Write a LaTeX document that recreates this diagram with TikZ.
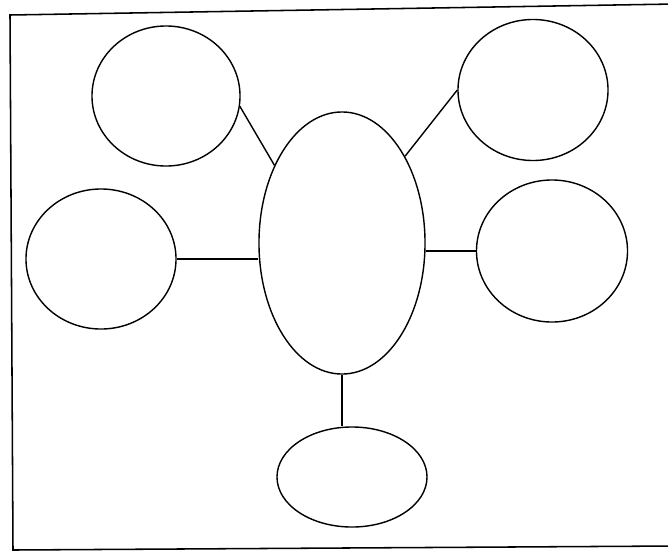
\documentclass[tikz,border=0pt]{standalone}
\usepackage{tikz}
\usetikzlibrary{shapes.geometric}

\begin{document}
\begin{tikzpicture}[
  x=0.025cm, y=-0.025cm,
  bubble/.style={ellipse, draw=black, line width=1pt, inner sep=0pt,
    minimum width=#1},
  link/.style={draw=black, line width=1pt},
]
  \useasboundingbox (0,0) rectangle (668,553);
  % frame (scanned sheet, a little skewed)
  \draw[line width=1.1pt] (10,15) -- (675,4) -- (675,546) -- (13,550) -- cycle;

  \node[bubble=4.15cm, minimum height=6.55cm] (hub) at (342,243) {};
  \node[bubble=3.7cm, minimum height=3.5cm] (topleft) at (166,96) {};
  \node[bubble=3.75cm, minimum height=3.525cm] (topright) at (533,90) {};
  \node[bubble=3.75cm, minimum height=3.5cm] (left) at (101,259) {};
  \node[bubble=3.775cm, minimum height=3.55cm] (right) at (552,251) {};
  \node[bubble=3.75cm, minimum height=2.5cm] (bottom) at (352,477) {};

  \draw[link] (topleft.-8) -- (hub.131);
  \draw[link] (topright.west) -- (hub.54);
  \draw[link] (left.east) -- (left.east -| hub.west);
  \draw[link] (right.west) -- (right.west -| hub.east);
  \draw[link] (hub.south) -- (hub.south |- bottom.north);
\end{tikzpicture}
\end{document}
